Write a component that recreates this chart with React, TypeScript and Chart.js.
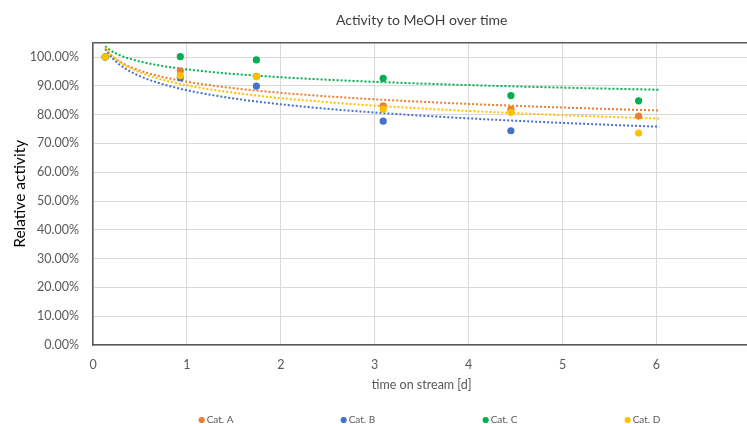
import React, { useEffect, useRef } from 'react';
import { Chart, registerables } from 'chart.js';

Chart.register(...registerables);

// ---- data ----
const SERIES_LABELS = ['Cat. A', 'Cat. B', 'Cat. C', 'Cat. D'];
const SERIES_COLORS = ['#ED7D31', '#4472C4', '#00B050', '#FFC000'];

const TIMES_A = [0.13, 0.93, 1.74, 3.09, 4.45, 5.81];
const CAT_A = [1.0, 0.952, 0.933, 0.83, 0.818, 0.795];

const TIMES_B = [0.13, 0.93, 1.74, 3.09, 4.45];
const CAT_B = [1.0, 0.928, 0.899, 0.777, 0.744];

const TIMES_C = [0.13, 0.93, 1.74, 3.09, 4.45, 5.81];
const CAT_C = [1.0, 1.001, 0.99, 0.926, 0.866, 0.848];

const TIMES_D = [0.13, 0.93, 1.74, 3.09, 4.45, 5.81];
const CAT_D = [1.0, 0.935, 0.931, 0.819, 0.808, 0.736];

const X_TICKS = [0, 1, 2, 3, 4, 5, 6, 7];
const Y_TICKS = [0, 0.1, 0.2, 0.3, 0.4, 0.5, 0.6, 0.7, 0.8, 0.9, 1.0];
const X_MAX = 7;
const Y_MAX = 1.05;
const TREND_RANGE = [0.13, 6.03]; // logarithmic trendline span (days)

const TITLE = 'Activity to MeOH over time';
const X_TITLE = 'time on stream [d]';
const Y_TITLE = 'Relative activity';

const FONT = 'Lato, "Noto Sans", sans-serif';
const TEXT = '#595959';

// least-squares logarithmic fit y = a*ln(x) + b (as Excel's trendline)
function logFit(xs: number[], ys: number[]) {
  const lx = xs.map((x) => Math.log(x));
  const n = xs.length;
  const mx = lx.reduce((s, v) => s + v, 0) / n;
  const my = ys.reduce((s, v) => s + v, 0) / n;
  let sxy = 0;
  let sxx = 0;
  for (let i = 0; i < n; i++) {
    sxy += (lx[i] - mx) * (ys[i] - my);
    sxx += (lx[i] - mx) * (lx[i] - mx);
  }
  const a = sxy / sxx;
  return { a, b: my - a * mx };
}

function trendPoints(xs: number[], ys: number[]) {
  const { a, b } = logFit(xs, ys);
  const pts: { x: number; y: number }[] = [];
  const steps = 120;
  for (let i = 0; i <= steps; i++) {
    const x = TREND_RANGE[0] + ((TREND_RANGE[1] - TREND_RANGE[0]) * i) / steps;
    pts.push({ x, y: a * Math.log(x) + b });
  }
  return pts;
}

const legendPlugin = {
  id: 'excelLegend',
  afterDraw(chart: any) {
    const { ctx, chartArea } = chart;
    const cx = (chartArea.left + chartArea.right) / 2;
    const spacing = 142;
    const y = chart.height - 4;
    ctx.save();
    ctx.font = `10px ${FONT}`;
    ctx.textBaseline = 'middle';
    ctx.textAlign = 'left';
    SERIES_LABELS.forEach((label, i) => {
      const mx = cx + (i - 1.5) * spacing - 7;
      ctx.beginPath();
      ctx.fillStyle = SERIES_COLORS[i];
      ctx.arc(mx, y, 3.1, 0, Math.PI * 2);
      ctx.fill();
      ctx.fillStyle = TEXT;
      ctx.fillText(label, mx + 5, y);
    });
    ctx.restore();
  },
};

export default function App() {
  const ref = useRef<HTMLCanvasElement | null>(null);

  useEffect(() => {
    if (!ref.current) return;
    const sets = [
      [TIMES_A, CAT_A],
      [TIMES_B, CAT_B],
      [TIMES_C, CAT_C],
      [TIMES_D, CAT_D],
    ];
    const pointSets = sets.map(([xs, ys], i) => ({
      type: 'scatter' as const,
      label: SERIES_LABELS[i],
      data: xs.map((x, j) => ({ x, y: ys[j] })),
      backgroundColor: SERIES_COLORS[i],
      borderColor: SERIES_COLORS[i],
      pointRadius: 3.6,
      pointBorderWidth: 0,
      showLine: false,
      order: 4 - i,
    }));
    const trendSets = sets.map(([xs, ys], i) => ({
      type: 'scatter' as const,
      label: SERIES_LABELS[i] + ' trend',
      data: trendPoints(xs, ys),
      borderColor: SERIES_COLORS[i],
      backgroundColor: SERIES_COLORS[i],
      borderWidth: 2,
      borderDash: [2, 2],
      pointRadius: 0,
      showLine: true,
      order: 10 + (4 - i),
    }));

    const chart = new Chart(ref.current, {
      type: 'scatter',
      data: { datasets: [...pointSets, ...trendSets] as any },
      plugins: [legendPlugin],
      options: {
        animation: false,
        responsive: false,
        devicePixelRatio: 1,
        layout: { padding: { left: 0, right: 5, top: 0, bottom: 29 } },
        plugins: {
          legend: { display: false },
          tooltip: { enabled: false },
          title: {
            display: true,
            text: TITLE,
            fullSize: false,
            color: '#404040',
            font: { family: FONT, size: 14, weight: 'normal' },
            padding: { top: 11.6, bottom: 14.2 },
          },
        },
        scales: {
          x: {
            type: 'linear',
            min: 0,
            max: X_MAX,
            afterBuildTicks: (scale: any) => {
              scale.ticks = X_TICKS.map((v) => ({ value: v }));
            },
            afterFit: (scale: any) => {
              scale.height = 50;
            },
            ticks: {
              color: TEXT,
              font: { family: FONT, size: 12.5 },
              padding: 12,
              maxRotation: 0,
              callback: (v: any) => String(v),
            },
            grid: { color: '#d9d9d9', lineWidth: 1, drawTicks: false },
            border: { color: '#595959', width: 1.5 },
            title: {
              display: true,
              text: X_TITLE,
              color: TEXT,
              font: { family: FONT, size: 12.5 },
              padding: { top: 0, bottom: 2.5 },
            },
          },
          y: {
            type: 'linear',
            min: 0,
            max: Y_MAX,
            afterBuildTicks: (scale: any) => {
              scale.ticks = [...Y_TICKS, Y_MAX].map((v) => ({ value: v }));
            },
            afterFit: (scale: any) => {
              scale.width = 93;
            },
            ticks: {
              color: TEXT,
              font: { family: FONT, size: 12.5 },
              padding: 14,
              callback: (v: any) =>
                Math.abs(v - Y_MAX) < 1e-9 ? '' : (v * 100).toFixed(2) + '%',
            },
            grid: {
              color: (c: any) =>
                c.tick && Math.abs(c.tick.value - Y_MAX) < 1e-9 ? '#595959' : '#d9d9d9',
              lineWidth: (c: any) =>
                c.tick && Math.abs(c.tick.value - Y_MAX) < 1e-9 ? 1.5 : 1,
              drawTicks: false,
            },
            border: { color: '#595959', width: 1.5 },
            title: {
              display: true,
              text: Y_TITLE,
              color: '#000000',
              font: { family: FONT, size: 15.5 },
              padding: { top: 11, bottom: 0 },
            },
          },
        },
      },
    });
    return () => chart.destroy();
  }, []);

  return (
    <div
      style={{
        position: 'absolute',
        left: 0,
        top: 0,
        width: 747,
        height: 424,
        overflow: 'hidden',
        background: '#ffffff',
      }}
    >
      <canvas ref={ref} width={766} height={424} style={{ display: 'block' }} />
    </div>
  );
}
